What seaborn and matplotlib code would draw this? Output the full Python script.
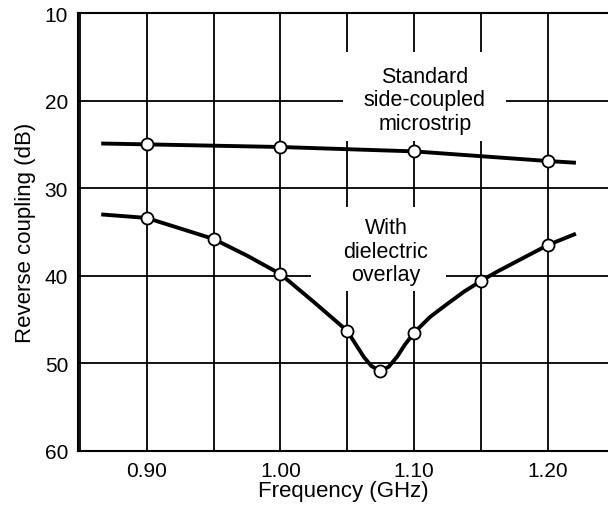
import matplotlib
matplotlib.use("Agg")
import matplotlib.pyplot as plt
import seaborn as sns
import pandas as pd
from matplotlib.ticker import MultipleLocator, FixedLocator
from matplotlib.patches import Rectangle

# Curve traces
std_freq = [0.866, 0.90, 1.00, 1.10, 1.20, 1.221]
std_db = [24.9, 25.0, 25.3, 25.8, 26.9, 27.1]

diel_freq = [0.866, 0.90, 0.925, 0.95, 0.975, 1.00, 1.025, 1.05, 1.057, 1.0625, 1.068,
             1.0745, 1.081, 1.0875, 1.093, 1.10, 1.112, 1.125, 1.1375, 1.15, 1.1625,
             1.175, 1.1875, 1.20, 1.221]
diel_db = [33.0, 33.4, 34.6, 35.8, 37.7, 39.8, 43.0, 46.3, 48.0, 49.3, 50.3,
           50.9, 50.4, 49.2, 47.9, 46.5, 44.7, 43.2, 41.8, 40.6, 39.5,
           38.5, 37.5, 36.5, 35.2]

# Measured points (circles)
std_pts_freq = [0.90, 1.00, 1.10, 1.20]
std_pts_db = [25.0, 25.3, 25.8, 26.9]
diel_pts_freq = [0.90, 0.95, 1.00, 1.05, 1.0745, 1.10, 1.15, 1.20]
diel_pts_db = [33.4, 35.8, 39.8, 46.3, 50.9, 46.5, 40.6, 36.5]

x_ticks = [0.90, 1.00, 1.10, 1.20]
x_tick_labels = ["0.90", "1.00", "1.10", "1.20"]
y_ticks = [10, 20, 30, 40, 50, 60]

sns.set_style("white")
plt.rcParams['font.family'] = ['Liberation Sans', 'DejaVu Sans']
plt.rcParams.update({"text.color": "black", "axes.labelcolor": "black",
                     "xtick.color": "black", "ytick.color": "black"})

fig = plt.figure(figsize=(6.08, 5.10), dpi=100)
ax = fig.add_axes([0.128, 0.114, 0.872, 0.8585])

lines = pd.DataFrame({"f": std_freq, "db": std_db})
lines2 = pd.DataFrame({"f": diel_freq, "db": diel_db})
sns.lineplot(data=lines, x="f", y="db", sort=False, color="black", lw=2.8, ax=ax,
             zorder=3, solid_joinstyle="round", solid_capstyle="butt")
sns.lineplot(data=lines2, x="f", y="db", sort=False, color="black", lw=2.8, ax=ax,
             zorder=3, solid_joinstyle="round", solid_capstyle="butt")

pts = pd.DataFrame({"f": std_pts_freq + diel_pts_freq, "db": std_pts_db + diel_pts_db})
sns.scatterplot(data=pts, x="f", y="db", ax=ax, s=75, facecolor="white",
                edgecolor="black", linewidth=1.3, zorder=4)

ax.set_xlim(0.8485, 1.245)
ax.set_ylim(60, 10)
ax.xaxis.set_major_locator(FixedLocator(x_ticks))
ax.set_xticklabels(x_tick_labels)
ax.xaxis.set_minor_locator(MultipleLocator(0.05))
ax.yaxis.set_major_locator(FixedLocator(y_ticks))
ax.grid(True, which="both", axis="x", color="black", lw=1.3)
ax.grid(True, which="major", axis="y", color="black", lw=1.3)
ax.set_axisbelow(True)
ax.tick_params(axis="both", which="both", length=0, labelsize=15, labelcolor="black")
ax.tick_params(axis="y", pad=7)
ax.tick_params(axis="x", pad=7)

ax.spines["right"].set_visible(False)
for side in ["left", "bottom", "top"]:
    ax.spines[side].set_color("black")
    ax.spines[side].set_linewidth(1.5)

ax.set_xlabel("Frequency (GHz)", fontsize=16, labelpad=0, color="black")
ax.set_ylabel("Reverse coupling (dB)", fontsize=16, labelpad=6, color="black")

# white label areas that break the grid
ax.add_patch(Rectangle((1.047, 14.4), 0.122, 10.2, facecolor="white",
                       edgecolor="none", zorder=2))
ax.add_patch(Rectangle((1.023, 32.1), 0.101, 9.7, facecolor="white",
                       edgecolor="none", zorder=2))

ax.text(1.108, 19.9, "Standard\nside-coupled\nmicrostrip", ha="center", va="center",
        fontsize=15.5, linespacing=1.15, zorder=5, color="black")
ax.text(1.079, 37.2, "With\ndielectric\noverlay", ha="center", va="center",
        fontsize=15.5, linespacing=1.15, zorder=5, color="black")

fig.savefig("out.png", dpi=100)
